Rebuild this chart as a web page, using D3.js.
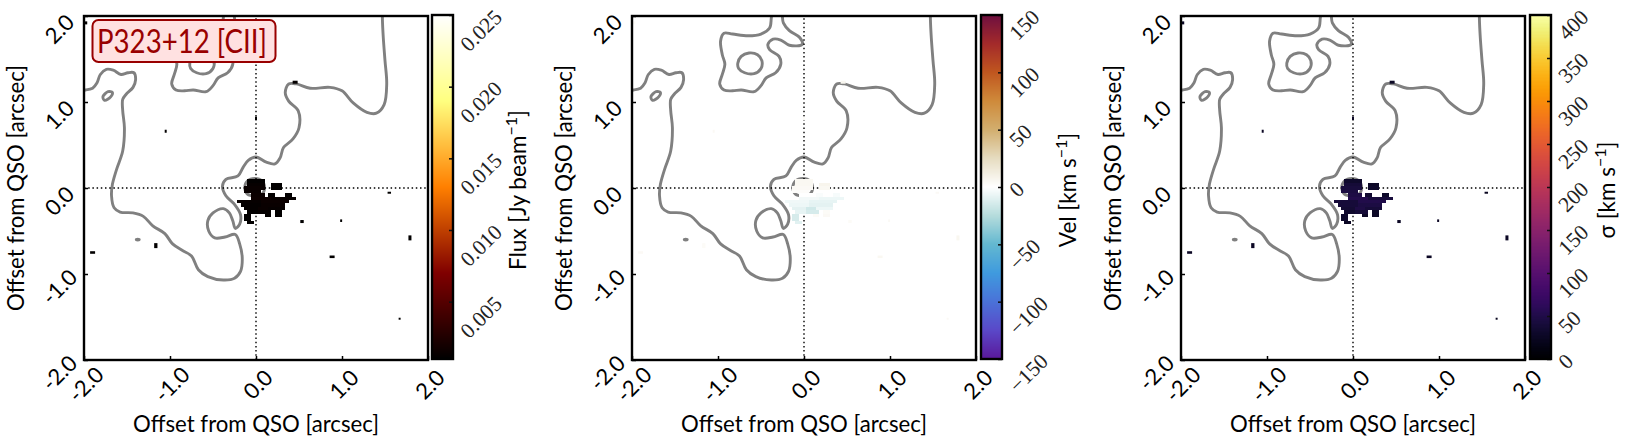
<!DOCTYPE html>
<html><head><meta charset="utf-8">
<script src="https://cdn.jsdelivr.net/npm/d3@7/dist/d3.min.js"></script>
<style>html,body{margin:0;padding:0;background:#fff}svg{display:block}</style>
</head><body><svg id="c" width="1626" height="443"></svg>
<script>
// ---- data (offsets in arcsec) ----
const tickValues=[-2,-1,0,1,2];
const fluxTicks=[0.005,0.010,0.015,0.020,0.025];
const velTicks=[-150,-100,-50,0,50,100,150];
const sigTicks=[0,50,100,150,200,250,300,350,400];
const contourMain=[[-2.03,1.14],[-1.98,1.14],[-1.90,1.16],[-1.85,1.22],[-1.81,1.32],[-1.74,1.38],[-1.66,1.37],[-1.57,1.32],[-1.49,1.34],[-1.42,1.34],[-1.40,1.26],[-1.43,1.17],[-1.51,1.09],[-1.55,1.03],[-1.55,0.90],[-1.53,0.70],[-1.55,0.43],[-1.62,0.22],[-1.67,0.04],[-1.68,-0.09],[-1.65,-0.23],[-1.58,-0.28],[-1.43,-0.29],[-1.31,-0.33],[-1.20,-0.44],[-1.06,-0.53],[-0.97,-0.65],[-0.85,-0.73],[-0.75,-0.79],[-0.67,-0.95],[-0.56,-1.03],[-0.38,-1.07],[-0.25,-1.05],[-0.18,-0.97],[-0.16,-0.81],[-0.19,-0.65],[-0.24,-0.54],[-0.36,-0.57],[-0.48,-0.58],[-0.55,-0.50],[-0.56,-0.38],[-0.50,-0.29],[-0.38,-0.24],[-0.31,-0.29],[-0.27,-0.38],[-0.24,-0.47],[-0.19,-0.42],[-0.18,-0.31],[-0.25,-0.19],[-0.35,-0.09],[-0.39,0.02],[-0.35,0.10],[-0.21,0.14],[-0.15,0.24],[-0.09,0.32],[0.00,0.36],[0.12,0.30],[0.22,0.28],[0.28,0.35],[0.32,0.47],[0.43,0.57],[0.50,0.70],[0.49,0.90],[0.38,1.01],[0.34,1.11],[0.38,1.21],[0.47,1.21],[0.63,1.16],[0.86,1.17],[1.00,1.13],[1.13,0.99],[1.29,0.88],[1.40,0.87],[1.49,0.97],[1.52,1.21],[1.50,1.48],[1.48,1.75],[1.47,1.96],[1.47,2.05]];
const contourTop=[[-0.37,2.05],[-0.38,1.98],[-0.40,1.86],[-0.50,1.79],[-0.65,1.77],[-0.83,1.79],[-0.93,1.80],[-0.97,1.71],[-0.95,1.55],[-0.92,1.44],[-0.95,1.32],[-0.98,1.21],[-0.93,1.14],[-0.83,1.13],[-0.73,1.14],[-0.58,1.12],[-0.50,1.19],[-0.44,1.28],[-0.33,1.34],[-0.27,1.44],[-0.29,1.53],[-0.40,1.61],[-0.42,1.67],[-0.36,1.73],[-0.27,1.72],[-0.17,1.66],[-0.02,1.67],[-0.05,1.75],[-0.17,1.83],[-0.24,1.92],[-0.25,1.98],[-0.25,2.05]];
const contourInner=[[-0.77,1.45],[-0.73,1.53],[-0.64,1.57],[-0.54,1.55],[-0.49,1.48],[-0.50,1.39],[-0.58,1.33],[-0.69,1.34],[-0.76,1.39]];
const contourSmall=[[-1.78,1.06],[-1.72,1.12],[-1.67,1.11],[-1.69,1.06],[-1.76,1.02]];
const contourDot=[[-1.392,-0.60],[-1.375,-0.595],[-1.358,-0.60],[-1.375,-0.605]];
const contourCore=[[-0.13,0.0],[-0.10,0.08],[-0.01,0.11],[0.07,0.08],[0.10,0.0],[0.07,-0.07],[-0.01,-0.09],[-0.10,-0.07]];
const closedContours=[contourInner,contourSmall,contourDot,contourCore];
const openContours=[contourMain,contourTop];
// blob runs: first cell, last cell, row (cells of blobCell arcsec)
const blobCell=0.04;
const blobRuns=[[-2,2,2],[-2,2,1],[5,7,1],[-3,2,0],[5,7,0],[-3,1,-1],[-1,2,-2],[4,5,-2],[9,10,-2],[-1,4,-3],[5,11,-3],[-5,1,-4],[2,9,-4],[-4,1,-5],[2,8,-5],[-3,0,-6],[1,3,-6],[4,8,-6],[-2,0,-7],[1,4,-7],[6,7,-7],[-3,-2,-8],[3,4,-8],[6,7,-8],[-3,-2,-9],[-2,-1,-10]];
const blobFlux=[.0011,.0013,.0011,.0014,.0011,.0014,.0015,.0011,.0011,.0016,.0013,.0013,.0015,.0012,.0014,.0012,.0014,.0013,.0011,.0012,.0011,.0011,.0011,.0011,.0011,.0011];
const blobVel=[5,5,7,4,5,2,0,-2,-3,-4,-6,-5,-8,-6,-9,-9,-16,-6,-8,-14,3,-14,3,4,-14,-10];
const blobSigma=[30,38,28,42,30,45,48,34,30,52,42,40,50,40,46,36,48,40,32,38,28,30,28,28,30,26];
// isolated specks: centre x, centre y, width, height
const specks=[[-1.05,0.66,.023,.035],[0,0.81,.023,.04],[0.455,1.23,.058,.035],[1.55,-0.055,.04,.023],[1.79,-0.58,.035,.058],[1.67,-1.52,.023,.023],[0.535,-0.39,.04,.035],[0.885,-0.80,.058,.03],[0.99,-0.38,.023,.03],[-1.165,-0.67,.038,.058],[-1.90,-0.75,.058,.03],[-1.98,1.92,.035,.035]];
const speckFlux=[.0011,.0011,.0012,.0011,.0011,.0011,.0011,.0011,.0011,.0011,.0011,.0011];
const speckVel=[4,3,6,4,6,4,3,5,4,3,4,3];
const speckSigma=[25,25,25,22,25,22,25,25,25,25,25,25];
const velStops=[-150,-125,-100,-75,-50,-25,0,25,50,75,100,125,150];
const velColors=["#5a189a","#5a48c8","#4a72d8","#3f9ade","#63b8d0","#b5dcdc","#ffffff","#e6dcc0","#d2ae6e","#cf8a3a","#c0561f","#a32a2a","#6e0f3f"];

// ---- colour maps ----
const cl=x=>Math.max(0,Math.min(1,x));
const afmhot=t=>d3.rgb(255*cl(2*t),255*cl(2*t-.5),255*cl(2*t-1)).toString();
const velScaleColor=d3.scaleLinear().domain(velStops).range(velColors);
const panels=[
 {left:84,cbLeft:432,label:"flux",domain:[0.001,0.025],ticks:fluxTicks,fmt:d=>d.toFixed(3),color:v=>afmhot((v-.001)/.024),blob:blobFlux,sp:speckFlux,cbLabelX:517},
 {left:632,cbLeft:981,label:"vel",domain:[-150,150],ticks:velTicks,fmt:d=>String(d).replace("-","\u2212"),color:velScaleColor,blob:blobVel,sp:speckVel,cbLabelX:1067},
 {left:1181,cbLeft:1530,label:"sig",domain:[0,400],ticks:sigTicks,fmt:d=>String(d),color:v=>d3.interpolateInferno(v/400),blob:blobSigma,sp:speckSigma,cbLabelX:1606}
];
const plotTop=16,size=344,cbW=21;
const sans="Lato, 'Open Sans', sans-serif",serif="'Liberation Serif', serif";
const svg=d3.select("#c");
const defs=svg.append("defs");
const lineOpen=(x,y)=>d3.line().x(d=>x(d[0])).y(d=>y(d[1])).curve(d3.curveCatmullRom.alpha(.5));
const lineClosed=(x,y)=>d3.line().x(d=>x(d[0])).y(d=>y(d[1])).curve(d3.curveCatmullRomClosed.alpha(.5));

panels.forEach((p,pi)=>{
 const x=d3.scaleLinear().domain([-2,2]).range([p.left,p.left+size]);
 const y=d3.scaleLinear().domain([-2,2]).range([plotTop+size,plotTop]);
 defs.append("clipPath").attr("id","clip"+pi).append("rect").attr("x",p.left).attr("y",plotTop).attr("width",size).attr("height",size);
 const g=svg.append("g");
 const inner=g.append("g").attr("clip-path",`url(#clip${pi})`);
 inner.selectAll("path.o").data(openContours).join("path").attr("class","o").attr("d",lineOpen(x,y)).attr("fill","none").attr("stroke","#808080").attr("stroke-width",2.9);
 inner.selectAll("path.c").data(closedContours).join("path").attr("class","c").attr("d",lineClosed(x,y)).attr("fill","none").attr("stroke","#808080").attr("stroke-width",2.9);
 inner.append("line").attr("x1",x(-2)).attr("x2",x(2)).attr("y1",y(0)).attr("y2",y(0)).attr("stroke","#000").attr("stroke-width",1.4).attr("stroke-dasharray","1.5 2.7");
 inner.append("line").attr("x1",x(0)).attr("x2",x(0)).attr("y1",y(-2)).attr("y2",y(2)).attr("stroke","#000").attr("stroke-width",1.4).attr("stroke-dasharray","1.5 2.7");
 inner.selectAll("rect.b").data(blobRuns).join("rect").attr("class","b")
  .attr("x",d=>x((d[0]-.5)*blobCell)).attr("width",d=>x((d[1]+.5)*blobCell)-x((d[0]-.5)*blobCell))
  .attr("y",d=>y((d[2]+.5)*blobCell)).attr("height",d=>y((d[2]-.5)*blobCell)-y((d[2]+.5)*blobCell))
  .attr("fill",(d,i)=>p.color(p.blob[i])).attr("shape-rendering","crispEdges");
 inner.selectAll("rect.s").data(specks).join("rect").attr("class","s")
  .attr("x",d=>x(d[0]-d[2]/2)).attr("width",d=>x(d[2])-x(0))
  .attr("y",d=>y(d[1]+d[3]/2)).attr("height",d=>y(0)-y(d[3]))
  .attr("fill",(d,i)=>p.color(p.sp[i]));
 // axes
 const ax=g.append("g").attr("transform",`translate(0,${plotTop+size})`).call(d3.axisBottom(x).tickValues(tickValues).tickSizeInner(-4).tickSizeOuter(0).tickFormat(d=>d.toFixed(1)));
 const ay=g.append("g").attr("transform",`translate(${p.left},0)`).call(d3.axisLeft(y).tickValues(tickValues).tickSizeInner(-4).tickSizeOuter(0).tickFormat(d=>d.toFixed(1)));
 [ax,ay].forEach(a=>{a.select(".domain").remove();a.selectAll("line").attr("stroke","#000").attr("stroke-width",1.5);});
 ax.selectAll("text").attr("font-family",sans).attr("font-size",22).attr("fill","#000").attr("text-anchor","middle").attr("dy",null).attr("dominant-baseline","central").attr("x",null).attr("y",null)
  .attr("transform",d=>`translate(1,24) rotate(-45)`);
 ay.selectAll("text").attr("font-family",sans).attr("font-size",22).attr("fill","#000").attr("text-anchor","middle").attr("dy",null).attr("dominant-baseline","central").attr("x",null).attr("y",null)
  .attr("transform",d=>`translate(-25,12) rotate(-45)`);
 g.append("rect").attr("x",p.left).attr("y",plotTop).attr("width",size).attr("height",size).attr("fill","none").attr("stroke","#000").attr("stroke-width",2.4);
 g.append("text").attr("x",p.left+size/2).attr("y",423).attr("text-anchor","middle").attr("dominant-baseline","central").attr("font-family",sans).attr("font-size",22.2).text("Offset from QSO [arcsec]");
 g.append("text").attr("transform",`translate(${p.left-69},${plotTop+size/2}) rotate(-90)`).attr("text-anchor","middle").attr("dominant-baseline","central").attr("font-family",sans).attr("font-size",22.2).text("Offset from QSO [arcsec]");
 // colour bar
 const cy=d3.scaleLinear().domain(p.domain).range([359,15]);
 const cb=svg.append("g");
 const steps=d3.range(15,359);
 cb.selectAll("rect.g").data(steps).join("rect").attr("class","g").attr("x",p.cbLeft).attr("width",cbW).attr("y",d=>d).attr("height",1.3)
  .attr("fill",d=>p.color(cy.invert(d+.5)));
 const ca=cb.append("g").attr("transform",`translate(${p.cbLeft+cbW},0)`).call(d3.axisRight(cy).tickValues(p.ticks).tickSizeInner(-4).tickSizeOuter(0).tickFormat(p.fmt));
 ca.select(".domain").remove();
 ca.selectAll("line").attr("stroke","#111").attr("stroke-width",1.5);
 ca.selectAll("text").attr("font-family",serif).attr("font-size",21.5).attr("fill","#222").attr("text-anchor","middle").attr("dy",null).attr("x",null).attr("y",null).attr("dominant-baseline","central")
  .attr("transform",function(){const L=this.getComputedTextLength();const k=(L+13)*.3535;return `translate(${6.5+k},${-6.5+k}) rotate(-45)`;});
 cb.append("rect").attr("x",p.cbLeft).attr("y",15).attr("width",cbW).attr("height",344).attr("fill","none").attr("stroke","#000").attr("stroke-width",2.4);
 const lab=cb.append("text").attr("transform",`translate(${p.cbLabelX},190) rotate(-90)`).attr("text-anchor","middle").attr("dominant-baseline","central").attr("font-family",sans).attr("font-size",22.5);
 const pre=pi===0?"Flux [Jy beam":pi===1?"Vel [km s":"\u03c3 [km s";
 lab.append("tspan").text(pre);
 lab.append("tspan").attr("dy",-7).attr("font-size",16).text("\u22121");
 lab.append("tspan").attr("dy",7).text("]");
});
// title box
const tg=svg.append("g");
tg.append("rect").attr("x",92.5).attr("y",20).attr("width",183).attr("height",42).attr("rx",6).attr("fill","#ffe1e1").attr("stroke","#990000").attr("stroke-width",2);
tg.append("text").attr("x",182).attr("y",40).attr("text-anchor","middle").attr("dominant-baseline","central").attr("font-family",sans).attr("font-size",32).attr("textLength",170).attr("lengthAdjust","spacingAndGlyphs").attr("fill","#990000").text("P323+12 [CII]");
</script></body></html>
